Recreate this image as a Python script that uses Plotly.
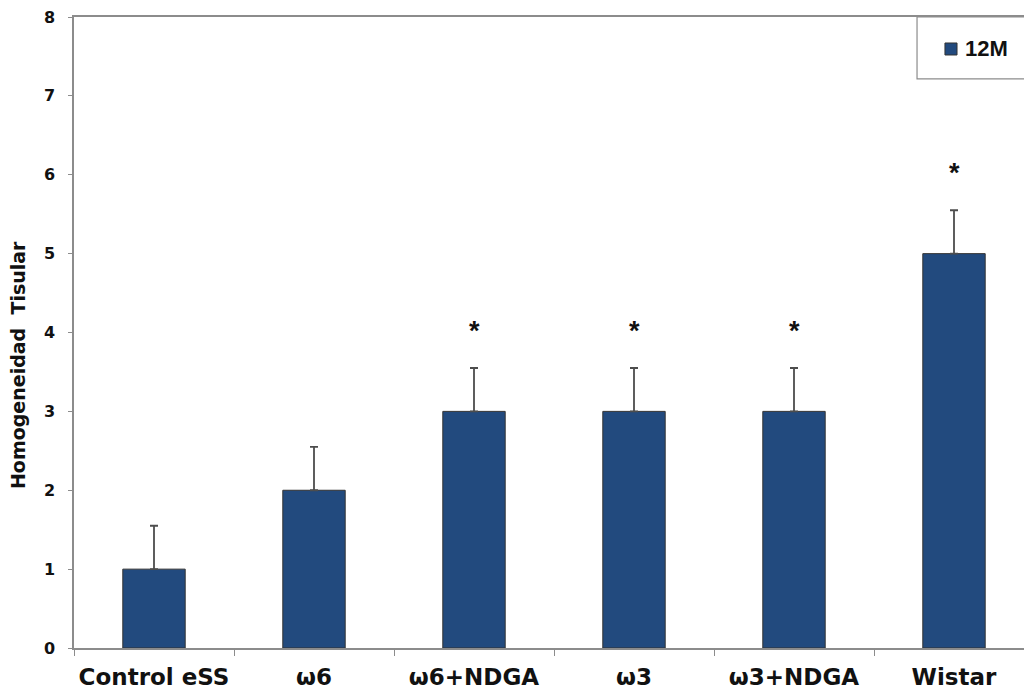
import plotly.graph_objects as go

categories = ["Control eSS", "ω6", "ω6+NDGA", "ω3", "ω3+NDGA", "Wistar"]
values = [1, 2, 3, 3, 3, 5]
errors = [0.55, 0.55, 0.55, 0.55, 0.55, 0.55]
significant = [False, False, True, True, True, True]
series_name = "12M"
y_title = "Homogeneidad  Tisular"

BAR = "#224a7e"
WIDE = "DejaVu Sans, Verdana, sans-serif"
NARROW = "Liberation Sans, Arial, sans-serif"
INK = "#111111"
AXIS = "#8c8c8c"

fig = go.Figure()
fig.add_trace(go.Bar(
    x=categories, y=values, name=series_name,
    width=0.39,
    marker=dict(color=BAR, line=dict(color="#333333", width=1)),
    error_y=dict(type="data", array=errors, arrayminus=[0] * len(errors),
                 symmetric=False, color="#4d4d4d", thickness=1.8, width=4),
    showlegend=False,
))

# significance marks above the error bars
for cat, v, e, s in zip(categories, values, errors, significant):
    if s:
        fig.add_annotation(x=cat, y=v + e + 0.47, text="<b>*</b>", showarrow=False,
                           font=dict(family=NARROW, size=27, color=INK),
                           yanchor="middle")

# legend frame, swatch and label
fig.add_shape(type="rect", xref="paper", yref="paper",
              x0=0.8874, x1=1.05, y0=0.902, y1=1.0,
              line=dict(color=AXIS, width=1.2), fillcolor="white", layer="above")
fig.add_shape(type="rect", xref="paper", yref="paper",
              x0=0.9168, x1=0.9295, y0=0.9398, y1=0.9588,
              line=dict(color="#333333", width=1), fillcolor=BAR, layer="above")
fig.add_annotation(xref="paper", yref="paper", x=0.9358, y=0.9493,
                   xanchor="left", yanchor="middle", showarrow=False,
                   text=f"<b>{series_name}</b>",
                   font=dict(family=NARROW, size=22, color=INK))

# y-axis title
fig.add_annotation(xref="paper", yref="paper", x=-0.0589, y=0.4485,
                   xanchor="center", yanchor="middle", showarrow=False,
                   textangle=-90, text=f"<b>{y_title}</b>",
                   font=dict(family=WIDE, size=19, color=INK))

fig.update_layout(
    width=1024, height=694,
    margin=dict(l=74, r=0, t=17, b=46),
    paper_bgcolor="white", plot_bgcolor="white",
    font=dict(family=WIDE, color=INK),
    showlegend=False,
    xaxis=dict(
        type="category", range=[-0.5, 5.4375],
        tickson="boundaries", ticks="outside", ticklen=6, tickcolor=AXIS,
        showline=True, linecolor=AXIS, linewidth=1.5, mirror=True,
        showgrid=False, tickfont=dict(family=WIDE, size=23, color=INK),
        tickvals=categories, ticktext=[f"<b>{c}</b>" for c in categories],
        ticklabelstandoff=8,
    ),
    yaxis=dict(
        range=[0, 8], dtick=1, ticks="outside", ticklen=4, tickcolor=AXIS,
        showline=True, linecolor=AXIS, linewidth=1.5,
        showgrid=False, zeroline=False,
        tickfont=dict(family=WIDE, size=16, color=INK),
        tickprefix="<b>", ticksuffix="</b>",
        ticklabelstandoff=10,
    ),
)

fig.write_html("out.html")
